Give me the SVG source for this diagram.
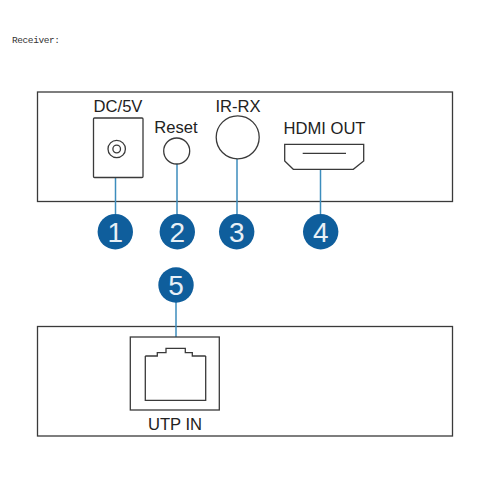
<svg xmlns="http://www.w3.org/2000/svg" width="500" height="500" viewBox="0 0 500 500">
<style>
.o{fill:none;stroke:#3a3a3a;stroke-width:1.3}
.t{font-family:"Liberation Sans",Arial,sans-serif;font-size:16.6px;fill:#222;text-anchor:middle}
.b{fill:#0f5e9c}
.n{font-family:"Liberation Sans",Arial,sans-serif;font-size:28px;fill:#e8f0f6;text-anchor:middle}
.c{fill:none;stroke:#3c8dbd;stroke-width:1.5}
</style>
<rect width="500" height="500" fill="#fff"/>
<text x="12" y="43" font-family="Liberation Mono,monospace" font-size="9.5px" fill="#333" textLength="48">Receiver:</text>
<g id="receiver-top"><rect class="o" x="37.5" y="92" width="415" height="109.5"/></g>
<g id="receiver-bottom"><rect class="o" x="37.5" y="326.5" width="415" height="109.5"/></g>
<g id="connectors">
<path class="c" d="M115.5 178V214"/>
<path class="c" d="M177 164V214"/>
<path class="c" d="M237 159V214"/>
<path class="c" d="M320.5 169.5V214"/>
<path class="c" d="M176 302V337"/>
</g>
<g id="dc5v">
<rect class="o" x="93.5" y="118" width="49.5" height="59.5" rx="1"/>
<circle class="o" cx="116.7" cy="149" r="8.7"/>
<circle class="o" cx="116.7" cy="149" r="3.8"/>
<text class="t" x="118" y="112">DC/5V</text>
</g>
<g id="reset">
<circle class="o" cx="176.7" cy="151" r="13"/>
<text class="t" x="176" y="133">Reset</text>
</g>
<g id="ir-rx">
<circle class="o" cx="237.7" cy="137.3" r="21.5"/>
<text class="t" x="238" y="112">IR-RX</text>
</g>
<g id="hdmi-out">
<path class="o" d="M284.7 144.3H363.7V161L353.3 169.3H293.3L284.7 161Z"/>
<path class="o" d="M302.7 153.3H346"/>
<text class="t" x="324.5" y="133.5">HDMI OUT</text>
</g>
<g id="utp-in">
<rect class="o" x="130.3" y="337" width="89" height="73"/>
<path class="o" d="M145.3 356H157.3V352.7H166V348.3H185.3V352.7H192.3V356H205.7M145.3 356V400.3H205.7V356"/>
<text class="t" x="175" y="430">UTP IN</text>
</g>
<g id="badge-1"><circle class="b" cx="115.3" cy="231.7" r="17.7"/><text class="n" x="115.3" y="241.7">1</text></g>
<g id="badge-2"><circle class="b" cx="177.3" cy="231.7" r="17.7"/><text class="n" x="177.3" y="241.7">2</text></g>
<g id="badge-3"><circle class="b" cx="236.7" cy="231.7" r="17.7"/><text class="n" x="236.7" y="241.7">3</text></g>
<g id="badge-4"><circle class="b" cx="320.7" cy="231.7" r="17.7"/><text class="n" x="320.7" y="241.7">4</text></g>
<g id="badge-5"><circle class="b" cx="176" cy="285" r="17.7"/><text class="n" x="176" y="295">5</text></g>
</svg>
